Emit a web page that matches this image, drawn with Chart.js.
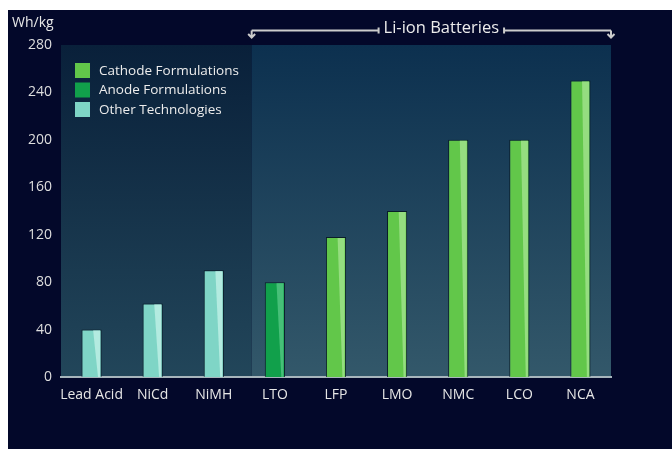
<!DOCTYPE html>
<html>
<head>
<meta charset="utf-8">
<title>Energy density by battery chemistry</title>
<script src="https://cdn.jsdelivr.net/npm/chart.js@4.4.1/dist/chart.umd.min.js"></script>
<style>
    html, body { margin: 0; padding: 0; background: #ffffff; }
    #wrap {
        position: absolute;
        left: 8px;
        top: 10px;
        width: 664px;
        height: 439px;
        background: #03082a;
    }
</style>
</head>
<body>
<div id="wrap"><canvas id="chart"></canvas></div>
<script>
// Данные: удельная энергия, Wh/kg
const categories = ["Lead Acid", "NiCd", "NiMH", "LTO", "LFP", "LMO", "NMC", "LCO", "NCA"];
const cathodeValues = [null, null, null, null, 118, 140, 200, 200, 250];
const anodeValues = [null, null, null, 80, null, null, null, null, null];
const otherValues = [40, 62, 90, null, null, null, null, null, null];
const seriesNames = ["Cathode Formulations", "Anode Formulations", "Other Technologies"];
const yTicks = [0, 40, 80, 120, 160, 200, 240, 280];
const unitLabel = "Wh/kg";
const groupLabel = "Li-ion Batteries";
const liIonStart = 3; // индекс первой Li-ion категории

const FONT = "'Open Sans', 'Noto Sans', sans-serif";

// Фон области графика: две зоны с вертикальным градиентом
const plotBackground = {
    id: "plotBackground",
    beforeDraw(chart) {
        const { ctx, chartArea, scales } = chart;
        const split = scales.x.getPixelForValue(liIonStart - 0.38);

        const left = ctx.createLinearGradient(0, chartArea.top, 0, chartArea.bottom);
        left.addColorStop(0, "#09203a");
        left.addColorStop(1, "#22465a");
        const right = ctx.createLinearGradient(0, chartArea.top, 0, chartArea.bottom);
        right.addColorStop(0, "#0c304f");
        right.addColorStop(1, "#33586a");

        ctx.save();
        ctx.fillStyle = left;
        ctx.fillRect(chartArea.left, chartArea.top, split - chartArea.left, chartArea.bottom - chartArea.top);
        ctx.fillStyle = right;
        ctx.fillRect(split, chartArea.top, chartArea.right - split, chartArea.bottom - chartArea.top);
        ctx.restore();
    }
};

// Светлый блик на правой части каждого столбика
const barShine = {
    id: "barShine",
    afterDatasetsDraw(chart) {
        const ctx = chart.ctx;
        chart.data.datasets.forEach((ds, i) => {
            const meta = chart.getDatasetMeta(i);
            meta.data.forEach((bar, j) => {
                if (ds.data[j] == null) return;
                const { x, y, base, width } = bar.getProps(["x", "y", "base", "width"], true);
                const l = x - width / 2;
                const r = x + width / 2;
                ctx.save();
                ctx.fillStyle = ds.shineColor;
                ctx.beginPath();
                ctx.moveTo(l + width * 0.58, y + 1);
                ctx.lineTo(r - 1.5, y + 1);
                ctx.lineTo(r - 1.5, base);
                ctx.lineTo(l + width * 0.82, base);
                ctx.closePath();
                ctx.fill();
                ctx.restore();
            });
        });
    }
};

// Подпись единиц, легенда и скобка "Li-ion Batteries"
const sideNotes = {
    id: "sideNotes",
    afterDraw(chart) {
        const { ctx, chartArea, scales } = chart;
        ctx.save();

        // единицы измерения
        ctx.fillStyle = "#e8e8e8";
        ctx.font = "14px " + FONT;
        ctx.textAlign = "left";
        ctx.textBaseline = "middle";
        ctx.fillText(unitLabel, 4, 13);

        // легенда
        ctx.font = "13.5px " + FONT;
        chart.data.datasets.forEach((ds, i) => {
            const bx = chartArea.left + 14;
            const by = chartArea.top + 18 + i * 19.5;
            ctx.fillStyle = ds.backgroundColor;
            ctx.fillRect(bx, by, 15, 15);
            ctx.fillStyle = "#ececec";
            ctx.fillText(ds.label, bx + 24, by + 8);
        });

        // скобка над Li-ion категориями
        const x0 = scales.x.getPixelForValue(liIonStart - 0.38);
        const x1 = chartArea.right;
        const cx = (x0 + x1) / 2 + 10;
        const ly = 20.5;
        ctx.font = "16.5px " + FONT;
        ctx.textAlign = "center";
        ctx.fillStyle = "#ececec";
        ctx.fillText(groupLabel, cx, 18);
        const half = ctx.measureText(groupLabel).width / 2 + 5;

        ctx.strokeStyle = "#cccccc";
        ctx.lineWidth = 2;
        ctx.beginPath();
        ctx.moveTo(x0, ly); ctx.lineTo(cx - half, ly);
        ctx.moveTo(cx + half, ly); ctx.lineTo(x1, ly);
        ctx.moveTo(cx - half, ly - 3); ctx.lineTo(cx - half, ly + 3);
        ctx.moveTo(cx + half, ly - 3); ctx.lineTo(cx + half, ly + 3);
        [x0, x1].forEach(ax => {
            ctx.moveTo(ax, ly); ctx.lineTo(ax, ly + 7);
            ctx.moveTo(ax - 3.5, ly + 3.5); ctx.lineTo(ax, ly + 7); ctx.lineTo(ax + 3.5, ly + 3.5);
        });
        ctx.stroke();
        ctx.restore();
    }
};

const ctx = document.getElementById("chart");
new Chart(ctx, {
    type: "bar",
    data: {
        labels: categories,
        datasets: [
            { label: seriesNames[0], data: cathodeValues, backgroundColor: "#62c74a", shineColor: "#95dd80" },
            { label: seriesNames[1], data: anodeValues, backgroundColor: "#11a04b", shineColor: "#47bf78" },
            { label: seriesNames[2], data: otherValues, backgroundColor: "#7fd5c6", shineColor: "#b3ebe0" }
        ]
    },
    options: {
        responsive: true,
        maintainAspectRatio: false,
        animation: false,
        layout: { padding: { left: 0, top: 35, right: 61, bottom: 32 } },
        datasets: {
            bar: {
                grouped: false,
                categoryPercentage: 1,
                barPercentage: 0.33,
                borderColor: "rgba(6, 22, 32, 0.85)",
                borderWidth: 1,
                borderSkipped: "bottom"
            }
        },
        plugins: {
            legend: { display: false },
            tooltip: { enabled: false }
        },
        scales: {
            x: {
                grid: { display: false, drawTicks: false },
                border: { display: true, color: "#a7b5bc", width: 2 },
                ticks: {
                    color: "#e6e6e6",
                    font: { family: FONT, size: 14 },
                    padding: 10,
                    maxRotation: 0,
                    autoSkip: false
                },
                afterFit(scale) { scale.height = 40; }
            },
            y: {
                min: 0,
                max: 280,
                grid: { display: false, drawTicks: false },
                border: { display: false },
                afterBuildTicks(scale) { scale.ticks = yTicks.map(v => ({ value: v })); },
                ticks: {
                    color: "#dedede",
                    font: { family: FONT, size: 14 },
                    padding: 9
                },
                afterFit(scale) { scale.width = 53; }
            }
        }
    },
    plugins: [plotBackground, barShine, sideNotes]
});
</script>
</body>
</html>
